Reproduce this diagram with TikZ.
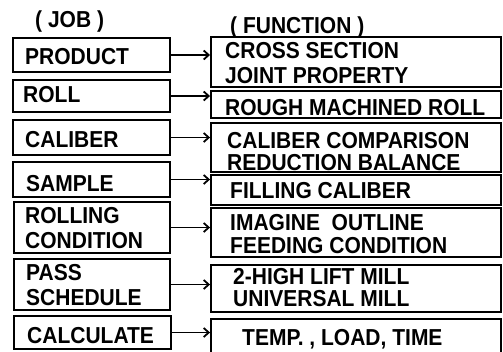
\documentclass[tikz,border=0pt]{standalone}
\usepackage{fontspec}
\setmainfont{Liberation Sans}
\usetikzlibrary{fit,arrows.meta}
\newcommand\tallt[1]{\scalebox{1}[1.1]{#1}}
\tikzset{
  box/.style={draw=black, line width=1.9pt, inner sep=0pt},
  txt/.style={anchor=base west, inner sep=0pt, font=\bfseries\fontsize{21}{25}\selectfont},
  conn/.style={line width=1.9pt, -{Straight Barb[length=5pt,width=9pt,line width=1.8pt]}}
}
\begin{document}
\begin{tikzpicture}[x=1pt,y=-1pt]
\useasboundingbox (0,0) rectangle (503,351);
\clip (0,0) rectangle (503,351);
% headers
\node[txt] (hjob) at (35,27) {\tallt{( JOB )}};
\node[txt] (hfun) at (230,33) {\tallt{( FUNCTION )}};
% left boxes
\node[box, fit={(13,38) (170,72)}] (l1) {};
\node[box, fit={(13,80) (170,112)}] (l2) {};
\node[box, fit={(13,120) (170,155)}] (l3) {};
\node[box, fit={(13,162) (170,197)}] (l4) {};
\node[box, fit={(14,202) (170,253)}] (l5) {};
\node[box, fit={(14,259) (170,310)}] (l6) {};
\node[box, fit={(14,316) (171,349)}] (l7) {};
% right boxes
\node[box, fit={(211,37) (501,87)}] (r1) {};
\node[box, fit={(211,91) (501,118)}] (r2) {};
\node[box, fit={(211,123) (501,172)}] (r3) {};
\node[box, fit={(211,175) (501,205)}] (r4) {};
\node[box, fit={(211,208) (501,257)}] (r5) {};
\node[box, fit={(211,265) (501,312)}] (r6) {};
\node[box, fit={(211,319) (501,362)}] (r7) {};
% left texts
\node[txt] (t1) at (25,64) {\tallt{PRODUCT}};
\node[txt] (t2) at (23,102) {\tallt{ROLL}};
\node[txt] (t3) at (25,147) {\tallt{CALIBER}};
\node[txt] (t4) at (26,191) {\tallt{SAMPLE}};
\node[txt] (t5a) at (25,223) {\tallt{ROLLING}};
\node[txt] (t5b) at (25,248) {\tallt{CONDITION}};
\node[txt] (t6a) at (26,280) {\tallt{PASS}};
\node[txt] (t6b) at (26,305) {\tallt{SCHEDULE}};
\node[txt] (t7) at (27,343) {\tallt{CALCULATE}};
% right texts
\node[txt] (u1a) at (225,58) {\tallt{CROSS SECTION}};
\node[txt] (u1b) at (225,83) {\tallt{JOINT PROPERTY}};
\node[txt] (u2) at (225,115) {\tallt{ROUGH MACHINED ROLL}};
\node[txt] (u3a) at (227,148) {\tallt{CALIBER COMPARISON}};
\node[txt] (u3b) at (227,170) {\tallt{REDUCTION BALANCE}};
\node[txt] (u4) at (230,198) {\tallt{FILLING CALIBER}};
\node[txt] (u5a) at (230,230) {\tallt{IMAGINE\ \ OUTLINE}};
\node[txt] (u5b) at (230,253) {\tallt{FEEDING CONDITION}};
\node[txt] (u6a) at (233,284) {\tallt{2-HIGH LIFT MILL}};
\node[txt] (u6b) at (233,306) {\tallt{UNIVERSAL MILL}};
\node[txt] (u7) at (242,345) {\tallt{TEMP. , LOAD, TIME}};
% connectors
\draw[conn] (l1.east) -- (l1.east -| r1.west);
\draw[conn] (l2.east) -- (l2.east -| r2.west);
\draw[conn] (l3.east) -- (l3.east -| r3.west);
\draw[conn] (l4.east) -- (l4.east -| r4.west);
\draw[conn] (l5.east) -- (l5.east -| r5.west);
\draw[conn] (l6.east) -- (l6.east -| r6.west);
\draw[conn] (l7.east) -- (l7.east -| r7.west);
\end{tikzpicture}
\end{document}
